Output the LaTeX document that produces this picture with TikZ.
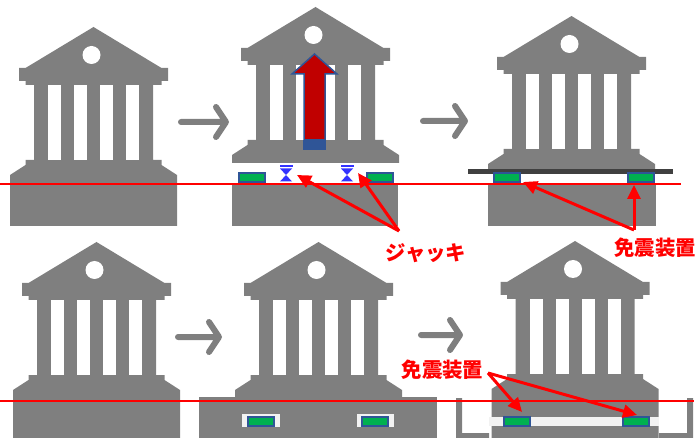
\documentclass[tikz,border=0pt]{standalone}
\usepackage{fontspec}
\newfontfamily\jpfont{Noto Sans CJK JP}
\usetikzlibrary{arrows.meta}

\definecolor{bldgray}{RGB}{127,127,127}
\definecolor{isored}{RGB}{255,0,0}
\definecolor{devgreen}{RGB}{0,176,80}
\definecolor{devblue}{RGB}{47,85,151}
\definecolor{liftred}{RGB}{192,0,0}
\definecolor{jackblue}{RGB}{51,51,255}
\definecolor{beam}{RGB}{64,64,64}
\definecolor{pad}{RGB}{242,242,242}

\tikzset{
  % temple-style building; #1 = depth of the lower body below the apex
  pics/bldg/.style={code={
    \fill[bldgray] (0,0) -- (68,41) -- (74.5,41) -- (74.5,54) -- (68,54) -- (68,58)
      -- (59.5,58) -- (59.5,133) -- (68,133) -- (68,138) -- (83.5,148) -- (83.5,#1)
      -- (-83.5,#1) -- (-83.5,148) -- (-68,138) -- (-68,133) -- (-59.5,133)
      -- (-59.5,58) -- (-68,58) -- (-68,54) -- (-74.5,54) -- (-74.5,41) -- (-68,41) -- cycle;
    \fill[white] (-2,28) circle (9bp);
    \foreach \g in {-45.5,-19.5,6.5,32.5}
      \fill[white] (\g,58) rectangle ++(13,75);
  }},
  % hydraulic jack symbol
  pics/jack/.style={code={
    \fill[jackblue] (-6.5,0) rectangle (6.5,1.8);
    \fill[jackblue] (-6,3) -- (6,3) -- (0,9.5) -- cycle;
    \fill[jackblue] (0,9.5) -- (6,16) -- (-6,16) -- cycle;
  }},
  device/.style={draw=devblue, fill=devgreen, line width=2bp, inner sep=0pt,
    minimum width=26bp, minimum height=9bp},
  groundline/.style={draw=isored, line width=2.8bp},
  steparrow/.style={draw=bldgray, line width=6bp, line cap=round, line join=round},
  ptr/.style={draw=isored, line width=3bp, -{Triangle[length=14bp,width=13bp]}},
  lbl/.style={text=isored, inner sep=0pt,
    font=\jpfont\bfseries\fontsize{20.5}{24}\selectfont},
}

\begin{document}
\begin{tikzpicture}[x=1bp,y=-1bp]
\useasboundingbox (0,0) rectangle (697,438);

% ---- buildings ----
\pic at (93.5,27)   {bldg=199};
\pic at (315.5,7)   {bldg=156};
\pic at (571.5,16)  {bldg=153};
\pic at (96.5,242)  {bldg=196};
\pic at (318.5,242) {bldg=196};
\pic at (575,241)   {bldg=197};

% ---- foundations ----
\fill[bldgray] (232,184) rectangle (398,226);
\fill[bldgray] (488,183) rectangle (656,226);
\fill[beam] (468,169) rectangle (673,174);

\fill[bldgray] (199,397) rectangle (437,438);
\fill[pad] (242,414) rectangle (280,427);
\fill[pad] (357,414) rectangle (394,427);

% retaining pit around the isolated building
\fill[bldgray] (456,398) rectangle (462,438) (456,433) rectangle (489,438);
\fill[bldgray] (687,398) rectangle (693,438) (659,433) rectangle (693,438);
\fill[pad] (489,417) rectangle (659,426);

% ---- lifting arrow ----
\fill[devblue] (303,140) rectangle (326,150);
\draw[devblue, fill=liftred, line width=1.5bp]
  (314.5,54) -- (337,74) -- (325,74) -- (325,140) -- (304,140) -- (304,74) -- (292,74) -- cycle;

% ---- jacks ----
\pic at (286,165.5) {jack};
\pic at (347,165.5) {jack};

% ---- isolation devices ----
\node[device] (d1) at (252,178) {};
\node[device] (d2) at (380,178) {};
\node[device] (d3) at (507,177.5) {};
\node[device] (d4) at (640.5,177.5) {};
\node[device] (d5) at (260.5,421) {};
\node[device] (d6) at (375,421) {};
\node[device] (d7) at (517,421) {};
\node[device] (d8) at (635.5,421) {};

% ---- ground lines ----
\coordinate (g1l) at (0,184);  \coordinate (g1r) at (681,184);
\coordinate (g2l) at (0,401);  \coordinate (g2r) at (694,401);
\draw[groundline] (g1l) -- (g1r);
\draw[groundline] (g2l) -- (g2r);

% ---- step arrows ----
\coordinate (s1a) at (181,122); \coordinate (s1b) at (226,122);
\coordinate (s2a) at (423,121); \coordinate (s2b) at (465,121);
\coordinate (s3a) at (178,337); \coordinate (s3b) at (219,337);
\coordinate (s4a) at (421,335); \coordinate (s4b) at (460,335);
\foreach \a/\b in {s1a/s1b, s2a/s2b, s3a/s3b, s4a/s4b}
  \draw[steparrow] (\a) -- (\b) ++(-10,-15) -- (\b) -- ++(-10,15);

% ---- labels ----
\node[lbl] (jlab)  at (426,253.5) {ジャッキ};
\node[lbl] (ilab1) at (655,247.5) {免震装置};
\node[lbl] (ilab2) at (442.5,370) {免震装置};

% ---- pointers ----
\coordinate (js)  at (399,231);
\coordinate (jt1) at (297,175);
\coordinate (jt2) at (358,173);
\draw[ptr] (js) -- (jt1);
\draw[ptr] (js) -- (jt2);

\coordinate (is1) at (634,230);
\coordinate (it1) at (523,182);
\coordinate (it2) at (634,185);
\draw[ptr] (is1) -- (it1);
\draw[ptr] (is1) -- (it2);

\coordinate (is2) at (488,373);
\coordinate (it3) at (522,412);
\coordinate (it4) at (637,415);
\draw[ptr] (is2) -- (it3);
\draw[ptr] (is2) -- (it4);
\end{tikzpicture}
\end{document}
